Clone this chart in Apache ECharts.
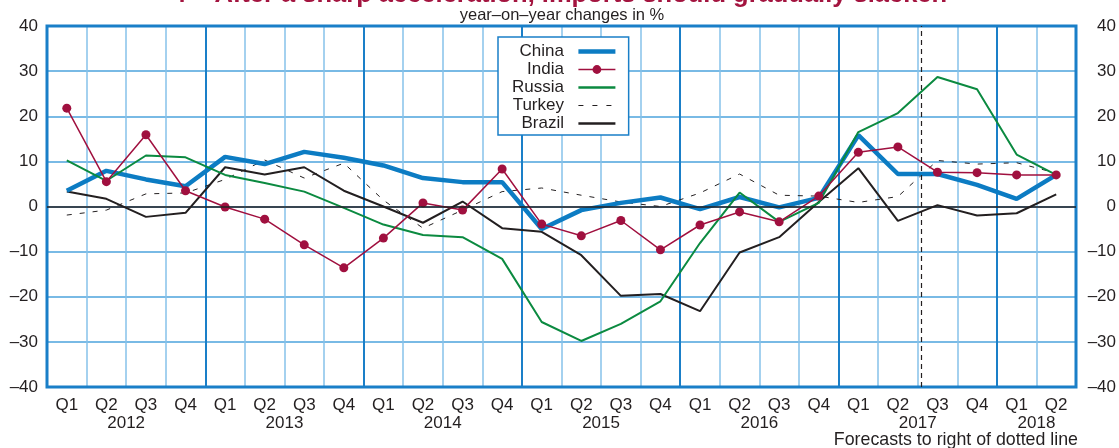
<!DOCTYPE html>
<html>
<head>
<meta charset="utf-8">
<script src="https://cdn.jsdelivr.net/npm/echarts@6/dist/echarts.min.js"></script>
<style>
html,body{margin:0;padding:0;background:#fff;}
#main{width:1119px;height:448px;}
</style>
</head>
<body>
<div id="main"></div>
<script>
// quarters 2012 Q1 .. 2018 Q2
var categories = ['2012 Q1','2012 Q2','2012 Q3','2012 Q4','2013 Q1','2013 Q2','2013 Q3','2013 Q4',
  '2014 Q1','2014 Q2','2014 Q3','2014 Q4','2015 Q1','2015 Q2','2015 Q3','2015 Q4',
  '2016 Q1','2016 Q2','2016 Q3','2016 Q4','2017 Q1','2017 Q2','2017 Q3','2017 Q4','2018 Q1','2018 Q2'];
var years = ['2012','2013','2014','2015','2016','2017','2018'];

var china  = [3.5,7.9,6.0,4.5,11.0,9.4,12.1,10.8,9.1,6.3,5.4,5.4,-5.0,-0.8,0.8,2.0,-0.6,2.1,-0.2,1.9,15.8,7.2,7.2,4.8,1.7,7.0];
var india  = [21.8,5.5,15.9,3.5,-0.1,-2.8,-8.5,-13.6,-7.0,0.8,-0.8,8.3,-3.9,-6.5,-3.1,-9.6,-4.1,-1.2,-3.4,2.3,12.0,13.2,7.6,7.5,7.0,7.0];
var russia = [10.2,5.7,11.3,10.9,7.0,5.2,3.3,-0.3,-4.0,-6.3,-6.8,-11.6,-25.6,-29.8,-26.0,-21.0,-8.1,3.1,-3.4,0.8,16.5,20.7,28.7,26.0,11.5,7.0];
var turkey = [-1.9,-0.8,2.8,3.0,6.0,10.3,6.3,9.6,1.4,-4.8,-0.8,3.3,4.1,2.5,1.0,0.0,3.0,7.2,2.5,2.3,0.9,2.2,10.2,9.4,9.7,7.4];
var brazil = [3.3,1.7,-2.3,-1.4,8.7,7.1,8.7,3.5,0.0,-3.6,1.1,-4.8,-5.6,-10.8,-19.8,-19.4,-23.2,-10.2,-6.8,1.0,8.5,-3.2,0.3,-2.0,-1.5,2.7];

var forecastStart = '2017 Q3';

// year label sits in the middle of its quarters
var yearPos = years.map(function(y){
  var idx = [];
  categories.forEach(function(c,i){ if(c.indexOf(y)===0) idx.push(i); });
  return (idx[0] + idx[idx.length-1]) / 2 + 0.5;
});
var forecastPos = categories.indexOf(forecastStart) + 0.1;

var font = 'Liberation Sans';
var txt = '#231f20';
function minus(v){ return v < 0 ? '\u2013' + Math.abs(v) : String(v); }

var myChart = echarts.init(document.getElementById('main'));

var noDot = {opacity:0};   // legend: line only, no marker

var option = {
  animation:false,
  textStyle:{fontFamily:font},
  graphic:[
    {type:'text', left:'center', top:-18, style:{text:'4 \u2013 After a sharp acceleration, imports should gradually slacken', font:'bold 25.5px "Liberation Sans"', fill:'#a3143f'}},
    {type:'text', x:562, y:15, style:{text:'year\u2013on\u2013year changes in %', font:'16.5px "Liberation Sans"', fill:txt, align:'center', verticalAlign:'middle'}},
    {type:'text', x:1078, y:440, style:{text:'Forecasts to right of dotted line', font:'17.8px "Liberation Sans"', fill:txt, align:'right', verticalAlign:'middle'}}
  ],
  legend:{
    data:[
      {name:'China', itemStyle:noDot, lineStyle:{width:4.5}},
      {name:'India', lineStyle:{width:1.5}},
      {name:'Russia', itemStyle:noDot, lineStyle:{width:2.5}},
      {name:'Turkey', itemStyle:noDot, lineStyle:{width:1.2, type:[5,9]}},
      {name:'Brazil', itemStyle:noDot, lineStyle:{width:2.5}}
    ],
    orient:'vertical',
    align:'right',
    left:498, top:37,
    padding:[6,11,3,14],
    itemWidth:37, itemHeight:11, itemGap:1,
    backgroundColor:'#fff',
    borderColor:'#1a7fc8', borderWidth:1.5,
    formatter:function(n){ return n + '  '; },
    textStyle:{fontSize:17, color:txt, fontFamily:font},
    selectedMode:false
  },
  grid:{left:47, right:42, top:26, bottom:61, show:true, borderColor:'#1a7fc8', borderWidth:3, backgroundColor:'transparent', z:3},
  xAxis:[
    {
      type:'category', data:categories, boundaryGap:true,
      axisLine:{show:false}, axisTick:{show:false},
      axisLabel:{interval:0, margin:10, fontSize:17, color:txt, formatter:function(v){ return v.split(' ')[1]; }},
      splitLine:{show:true, interval:0, lineStyle:{color:'#86c2ea', width:1.5}}
    },
    {
      type:'value', min:0, max:categories.length, interval:4, position:'bottom',
      axisLine:{show:false}, axisTick:{show:false},
      axisLabel:{customValues:yearPos, margin:28, fontSize:17, color:txt,
        formatter:function(v){ return years[yearPos.indexOf(v)]; }},
      splitLine:{show:true, lineStyle:{color:'#1a7fc8', width:2}}
    }
  ],
  yAxis:[
    {
      type:'value', min:-40, max:40, interval:10,
      axisLine:{show:false}, axisTick:{show:false},
      axisLabel:{margin:9, fontSize:17, color:txt, formatter:minus},
      splitLine:{show:true, lineStyle:{color:'#4da3dd', width:1.5}}
    },
    {
      type:'value', min:-40, max:40, interval:10, position:'right',
      axisLine:{show:false}, axisTick:{show:false},
      axisLabel:{margin:40, align:'right', fontSize:17, color:txt, formatter:minus},
      splitLine:{show:false}
    }
  ],
  series:[
    {
      name:'marks', type:'line', xAxisIndex:1, yAxisIndex:0, data:[], silent:true,
      markLine:{silent:true, symbol:'none', label:{show:false},
        data:[
          {yAxis:0, lineStyle:{color:'#231f20', width:1.5, type:'solid'}},
          {xAxis:forecastPos, lineStyle:{color:'#231f20', width:1.2, type:[5,4]}}
        ]}
    },
    {name:'Turkey', type:'line', data:turkey, symbol:'none', lineStyle:{color:'#231f20', width:1, type:[5,8]}, itemStyle:{color:'#231f20'}},
    {name:'Brazil', type:'line', data:brazil, symbol:'none', lineStyle:{color:'#231f20', width:2}, itemStyle:{color:'#231f20'}},
    {name:'China', type:'line', data:china, symbol:'none', lineStyle:{color:'#0c7cc3', width:4.5}, itemStyle:{color:'#0c7cc3'}},
    {name:'Russia', type:'line', data:russia, symbol:'none', lineStyle:{color:'#0b8a40', width:2}, itemStyle:{color:'#0b8a40'}},
    {name:'India', type:'line', data:india, symbol:'circle', symbolSize:9, lineStyle:{color:'#a0103f', width:1.5}, itemStyle:{color:'#a0103f'}}
  ]
};

myChart.setOption(option);
</script>
</body>
</html>
